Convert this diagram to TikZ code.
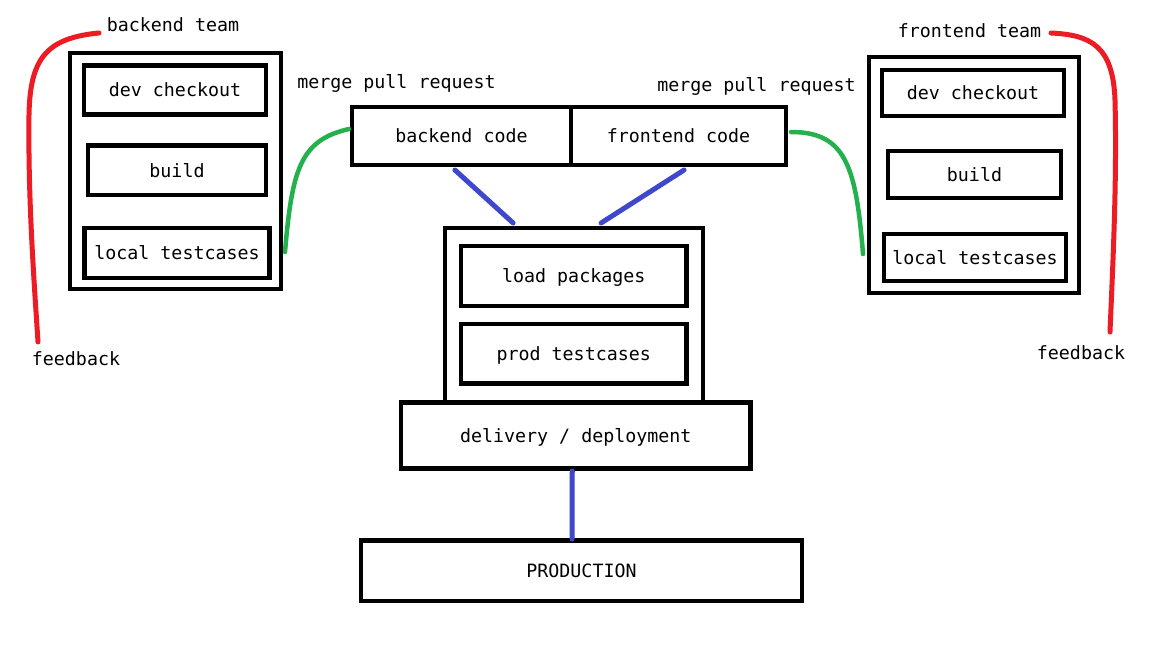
\documentclass[tikz,border=0pt]{standalone}
\usepackage{fontspec}
\setmonofont{DejaVu Sans Mono}
\usetikzlibrary{calc}
\definecolor{pred}{HTML}{ED1C24}
\definecolor{pgreen}{HTML}{22B14C}
\definecolor{pblue}{HTML}{3F48CC}
\tikzset{
  txt/.style={font=\ttfamily\fontsize{18.3}{20}\selectfont, text height=13.5pt, text depth=0pt},
  box/.style={txt, draw=black, line width=4.8pt, rectangle, inner sep=0pt, outer sep=0pt},
  lbl/.style={txt, inner sep=0pt},
  fbline/.style={draw=pred, line width=5pt, line cap=round},
  mergeline/.style={draw=pgreen, line width=4.5pt, line cap=round},
  flowline/.style={draw=pblue, line width=5pt, line cap=round},
}
\begin{document}
\begin{tikzpicture}[x=1pt, y=-1pt]
\useasboundingbox[fill=white] (0,0) rectangle (1152,648);

% backend team column
\node[box, minimum width=211pt, minimum height=236pt] (Lteam) at (175.5,171) {};
\node[box, minimum width=182pt, minimum height=49pt] (Ldev) at (175,90) {dev checkout};
\node[box, minimum width=178pt, minimum height=49.5pt] (Lbuild) at (177,170.25) {build};
\node[box, minimum width=185pt, minimum height=50pt] (Ltest) at (177,253) {local testcases};

% frontend team column
\node[box, minimum width=210pt, minimum height=236pt] (Rteam) at (974,175) {};
\node[box, minimum width=182pt, minimum height=46pt] (Rdev) at (973,93) {dev checkout};
\node[box, minimum width=173pt, minimum height=47pt] (Rbuild) at (974.5,174.5) {build};
\node[box, minimum width=182pt, minimum height=47pt] (Rtest) at (975,257.5) {local testcases};

% code repositories
\node[box, minimum width=219pt, minimum height=58pt] (bcode) at (461.5,136) {backend code};
\node[box, minimum width=215pt, minimum height=58pt] (fcode) at (678.5,136) {frontend code};

% staging
\node[box, minimum width=258pt, minimum height=174.5pt] (stage) at (574,315.25) {};
\node[box, minimum width=225.5pt, minimum height=60pt] (load) at (573.75,276) {load packages};
\node[box, minimum width=225.5pt, minimum height=59.5pt] (prodtest) at (573.75,353.75) {prod testcases};
\node[box, minimum width=349.5pt, minimum height=66pt] (deliv) at (575.75,435.5) {delivery / deployment};
\node[box, minimum width=441pt, minimum height=60.5pt] (prod) at (581.5,570.75) {PRODUCTION};

% labels
\node[lbl] (bteam) at (173,25) {backend team};
\node[lbl] (fteam) at (969.5,30.6) {frontend team};
\node[lbl] (bmerge) at (396.5,81.3) {merge pull request};
\node[lbl] (fmerge) at (756.5,84.3) {merge pull request};
\node[lbl] (bfeed) at (76,358.3) {feedback};
\node[lbl] (ffeed) at (1081,352.6) {feedback};

% connector end points
\coordinate (rl0) at (99,33);
\coordinate (rl1) at (38,342);
\coordinate (rr0) at (1051,33);
\coordinate (rr1) at (1110,332);
\coordinate (gl0) at (349,129);
\coordinate (gl1) at (285,252);
\coordinate (gr0) at (791,132);
\coordinate (gr1) at (863,254);

% feedback loops
\draw[fbline] (rl0) .. controls (45,38) and (30,60) .. (29,115) .. controls (28,200) and (34,280) .. (rl1);
\draw[fbline] (rr0) .. controls (1090,35) and (1113,45) .. (1115,100) .. controls (1117,180) and (1113,260) .. (rr1);

% merge pull requests
\draw[mergeline] (gl0) .. controls (300,140) and (292,170) .. (gl1);
\draw[mergeline] (gr0) .. controls (845,132) and (856,165) .. (gr1);

% flow
\draw[flowline] ($(bcode.south west)!0.47!(bcode.south east)+(0,5)$) -- ($(stage.north west)!0.264!(stage.north east)+(0,-5)$);
\draw[flowline] ($(fcode.south west)!0.526!(fcode.south east)+(0,5)$) -- ($(stage.north west)!0.605!(stage.north east)+(0,-5)$);
\draw[flowline] ($(deliv.south)+(-3.5,2.5)$) -- ($(prod.north)+(-9.5,-1.5)$);
\end{tikzpicture}
\end{document}
